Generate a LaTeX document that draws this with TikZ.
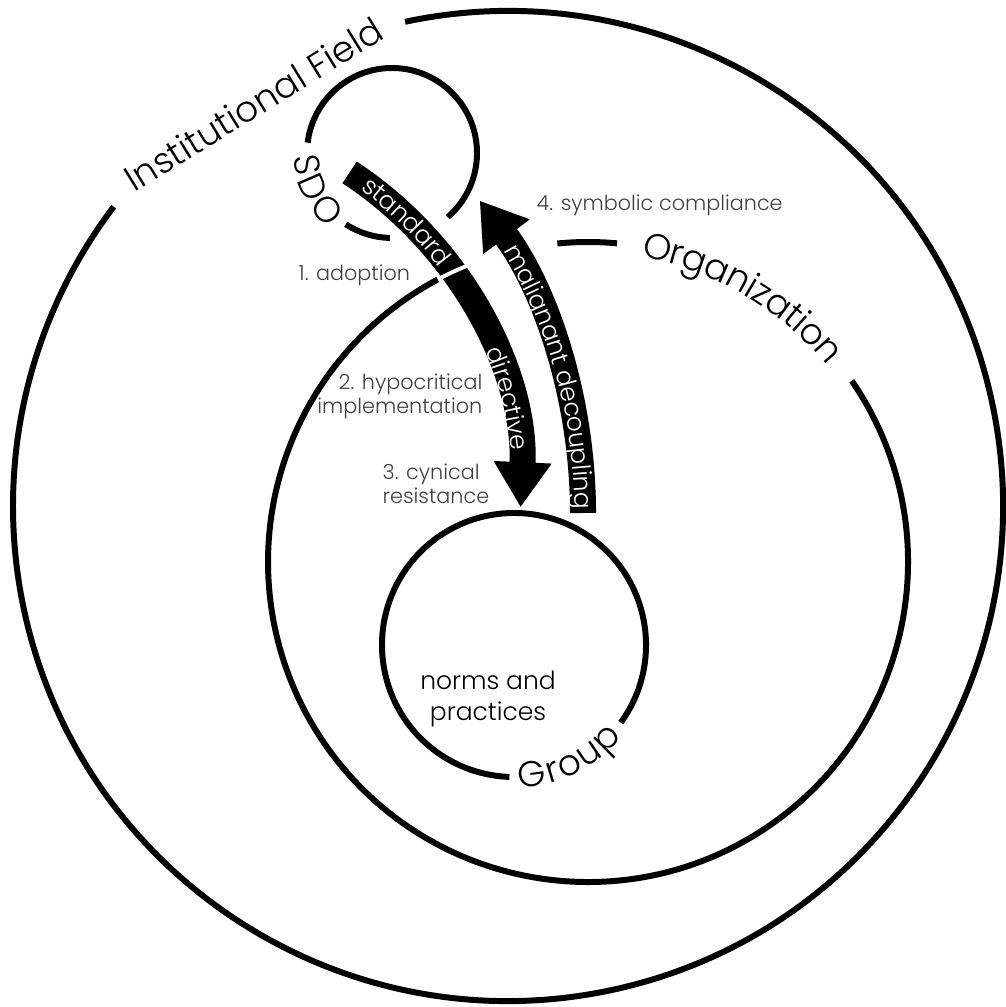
\documentclass[tikz,border=0pt]{standalone}
\usepackage{fontspec}
\IfFontExistsTF{Poppins Light}{\setmainfont{Poppins Light}}{\setmainfont{Poppins}}
\usetikzlibrary{arrows.meta,decorations.text,calc}
\definecolor{stepgrey}{HTML}{404040}
\newcommand{\ringfont}{\fontsize{10.2}{12}\selectfont}
\newcommand{\flowfont}{\fontsize{7.1}{9}\selectfont}
\newcommand{\stepfont}{\fontsize{5.9}{6.9}\selectfont}
\newcommand{\innerfont}{\fontsize{7.1}{8.8}\selectfont}
\begin{document}
\begin{tikzpicture}[x=0.01cm,y=0.01cm,
  ring/.style={line width=1.7pt},
  flow/.style={line width=7.4pt,-{Triangle[width=15.6pt,length=12.8pt]}},
  ringtext/.style={decorate,decoration={text along path,text align=center,raise=-3pt,text={|\ringfont|#1}}},
  flowtext/.style={decorate,decoration={text along path,text align=center,raise=-2.3pt,text color=white,text={|\flowfont|#1}}},
  steplabel/.style={font=\stepfont,text=stepgrey,inner sep=0pt}]
\useasboundingbox (0,0) rectangle (1005,-1007);
\coordinate (field) at (508,-506);
\coordinate (org) at (588,-562);
\coordinate (grp) at (514,-645);
\coordinate (sdo) at (392,-153);
\coordinate (dirc) at (141,-490);
\coordinate (malc) at (59,-513);

\draw[ring] ($(field)+(102:495)$) arc[start angle=102,end angle=-217.2,radius=495];
\node[font=\ringfont,rotate=31.7] (fieldlabel) at (253.5,-104) {Institutional Field};

\draw[ring] ($(org)+(34.5:320)$) arc[start angle=34.5,end angle=-242,radius=320];
\draw[ring] ($(org)+(95.5:320)$) arc[start angle=95.5,end angle=84.8,radius=320];
\path[ringtext=Organization] ($(org)+(84.7:320)$) arc[start angle=84.7,end angle=34.7,radius=320];

\draw[ring] ($(grp)+(-36:132)$) arc[start angle=-36,end angle=268,radius=132];
\path[ringtext=Group] ($(grp)+(-92:132)$) arc[start angle=-92,end angle=-36,radius=132];

\draw[ring] ($(sdo)+(-49:85)$) arc[start angle=-49,end angle=173,radius=85];
\draw[ring] ($(sdo)+(237:85)$) arc[start angle=237,end angle=268.6,radius=85];
\path[ringtext=SDO,decoration={raise=-3.8pt}] ($(sdo)+(174:85)$) arc[start angle=174,end angle=238,radius=85];

\draw[flow] ($(dirc)+(56.7:380)$) arc[start angle=56.7,end angle=-2.6,radius=380];
\draw[white,line width=1.1pt] ($(org)+(117.9:320)$) arc[start angle=117.9,end angle=111.8,radius=320];
\draw[flow] ($(malc)+(0:524)$) arc[start angle=0,end angle=36.6,radius=524];
\path[flowtext=standard] ($(dirc)+(56:380)$) arc[start angle=56,end angle=34.6,radius=380];
\path[flowtext=directive] ($(dirc)+(26:380)$) arc[start angle=26,end angle=2,radius=380];
\path[flowtext=malignant decoupling] ($(malc)+(32.5:524)$) arc[start angle=32.5,end angle=-1.5,radius=524];

\node[steplabel,anchor=base west] (adopt) at (298,-281) {1. adoption};
\node[steplabel,anchor=north east,align=right] (hypo) at (483,-373) {2. hypocritical\\implementation};
\node[steplabel,anchor=north west,align=left] (cynic) at (382,-463) {3. cynical\\resistance};
\node[steplabel,anchor=base west] (symbol) at (536,-211) {4. symbolic compliance};
\node[font=\innerfont,align=center,anchor=north,inner sep=0pt] (norms) at (488,-670) {norms and\\practices};
\end{tikzpicture}
\end{document}
